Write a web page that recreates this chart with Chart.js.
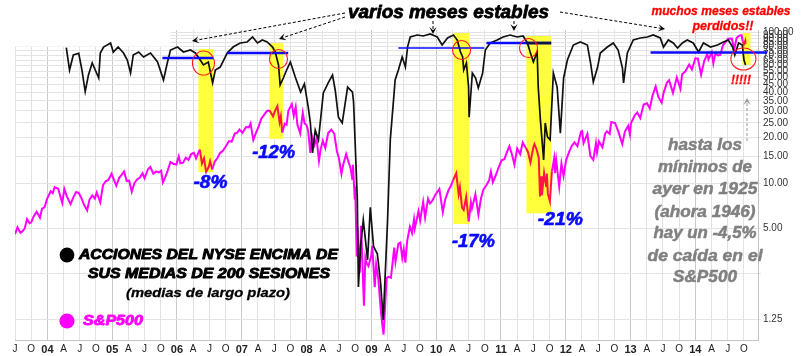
<!DOCTYPE html>
<html><head><meta charset="utf-8">
<script src="https://cdn.jsdelivr.net/npm/chart.js@4"></script>
<style>html,body{margin:0;padding:0;background:#fff;}canvas{display:block}</style>
</head><body>
<canvas id="c" width="807" height="356"></canvas>
<script>
// ---- x axis (month index: 0 = Jan 2003) tick labels, quarterly from Jul 2003 ----
const xTickStart = 6;
const xTickLabels = ['J','O','04','A','J','O','05','A','J','O','06','A','J','O','07','A','J','O','08','A','J','O','09','A','J','O','10','A','J','O','11','A','J','O','12','A','J','O','13','A','J','O','14','A','J','O'];
// ---- right axis (% NYSE stocks above 200-day MA, log) ----
const yTickValues = [1.25,2.5,5,10,15,20,25,30,35,40,45,50,55,60,65,70,75,80,85,90,95,100];
const yTickLabels = ['1.25','','5.00','10.00','15.00','20.00','25.00','30.00','35.00','40.00','45.00','50.00','55.00','60.00','65.00','70.00','75.00','80.00','85.00','90.00','95.00','100.00'];

// ---- % of NYSE stocks above their 200-day average (month index, value) ----
const brMonthIdx = [15.5,16.1,16.8,17.8,18.4,19.0,19.6,20.3,21.5,21.8,
22.4,23.7,24.2,25.1,26.1,26.8,27.4,27.9,28.9,29.8,
31.1,32.4,33.5,34.2,34.8,36.1,37.2,38.5,39.4,40.3,
40.9,41.8,42.6,43.1,44.0,45.3,46.4,47.7,49.0,50.0,
50.9,51.8,52.7,53.7,54.2,54.8,55.1,55.7,56.3,57.0,
57.9,58.9,59.6,60.3,60.7,61.1,61.6,62.2,63.1,64.0,
64.8,65.3,65.9,66.6,67.6,68.5,68.7,69.4,69.6,70.0,
70.5,71.3,71.8,72.4,73.1,73.7,74.2,75.0,75.5,76.1,
76.4,77.0,77.7,78.3,78.7,79.2,80.5,81.6,82.9,84.2,
85.1,86.1,87.2,87.9,88.5,88.9,89.1,89.6,90.0,90.1,
90.7,91.3,91.8,92.6,93.1,94.0,95.3,96.4,97.7,99.0,
100.1,100.9,101.4,102.0,102.7,102.9,103.3,103.9,104.2,104.6,
105.1,105.7,106.4,107.0,107.6,108.3,109.4,110.7,112.0,112.6,
113.1,113.9,114.4,115.7,116.8,117.7,118.5,118.7,119.4,120.5,
121.8,123.1,124.2,125.5,126.1,127.0,127.9,128.7,129.6,130.5,
131.6,132.6,133.5,134.8,136.1,137.2,138.1,138.9,139.3,140.0,
140.7,141.0,141.3];
const brValues = [78.7,56.0,70.4,72.3,56.0,40.3,51.9,62.3,49.6,72.6,
79.5,84.6,73.7,79.5,72.6,65.2,53.5,70.4,73.7,68.3,
72.6,63.3,48.1,62.3,76.0,79.5,73.7,76.0,72.6,65.2,
60.5,63.3,46.0,56.0,58.6,72.6,79.5,84.6,85.9,92.7,
84.6,88.5,85.9,79.5,73.7,60.5,44.6,49.6,56.0,63.3,
50.3,40.0,45.3,31.9,25.0,15.8,22.4,19.3,39.5,46.0,
51.9,41.3,27.3,25.0,43.2,40.0,34.4,7.7,2.05,3.8,
5.7,3.1,6.9,3.8,3.4,2.2,1.24,5.7,19.3,35.4,
48.1,56.0,68.3,58.6,79.5,92.7,95.5,94.1,97.0,92.7,
82.0,91.3,95.5,88.5,73.7,68.3,56.0,62.3,43.2,27.3,
53.5,49.6,42.6,53.5,76.0,84.6,88.5,92.7,95.5,92.7,
94.1,84.6,73.7,63.3,73.7,43.2,26.2,14.2,25.0,20.2,
19.3,53.5,43.2,21.4,49.6,65.2,82.0,85.9,82.0,62.3,
46.7,58.6,72.6,79.5,84.6,76.0,57.7,46.0,72.6,88.5,
91.3,92.7,95.5,91.3,79.5,88.5,84.6,78.3,84.6,88.5,
84.6,73.7,84.6,79.5,82.0,85.9,88.5,79.5,70.4,84.6,
82.0,65.2,60.5];

// ---- S&P 500 ----
const spDates = ['2003-07-01','2003-07-15','2003-08-01','2003-08-12','2003-08-25','2003-09-08','2003-09-22','2003-10-01','2003-10-15','2003-11-01','2003-11-20','2003-12-01','2003-12-15',
'2004-01-01','2004-01-20','2004-02-01','2004-02-11','2004-03-01','2004-03-24','2004-04-05','2004-04-20','2004-05-10','2004-05-25','2004-06-10','2004-06-25','2004-07-10','2004-07-25','2004-08-12','2004-08-25','2004-09-10','2004-09-25','2004-10-05','2004-10-25','2004-11-10','2004-11-25','2004-12-10','2004-12-28',
'2005-01-10','2005-01-24','2005-02-10','2005-02-25','2005-03-07','2005-03-22','2005-04-05','2005-04-20','2005-05-05','2005-05-20','2005-06-05','2005-06-20','2005-07-01','2005-07-20','2005-08-03','2005-08-20','2005-09-05','2005-09-20','2005-10-03','2005-10-13','2005-10-25','2005-11-10','2005-11-25','2005-12-10','2005-12-28',
'2006-01-11','2006-01-20','2006-02-05','2006-02-20','2006-03-05','2006-03-20','2006-04-05','2006-04-17','2006-05-08','2006-05-20','2006-06-01','2006-06-13','2006-06-28','2006-07-05','2006-07-17','2006-08-01','2006-08-15','2006-09-01','2006-09-15','2006-10-01','2006-10-20','2006-11-05','2006-11-22','2006-12-05','2006-12-18',
'2007-01-05','2007-01-25','2007-02-10','2007-02-20','2007-03-05','2007-03-20','2007-04-05','2007-04-20','2007-05-05','2007-05-20','2007-06-05','2007-06-25','2007-07-05','2007-07-19','2007-08-01','2007-08-08','2007-08-16','2007-08-30','2007-09-10','2007-09-20','2007-10-09','2007-10-20','2007-10-31','2007-11-10','2007-11-26','2007-12-10','2007-12-20',
'2008-01-02','2008-01-10','2008-01-22','2008-02-01','2008-02-15','2008-02-27','2008-03-10','2008-03-20','2008-04-01','2008-04-15','2008-05-01','2008-05-19','2008-06-05','2008-06-20','2008-07-01','2008-07-15','2008-07-25','2008-08-11','2008-08-25','2008-09-05','2008-09-15','2008-09-19','2008-09-29','2008-10-01','2008-10-10','2008-10-13','2008-10-27','2008-11-04','2008-11-20','2008-11-28','2008-12-05','2008-12-15','2008-12-31',
'2009-01-06','2009-01-20','2009-01-28','2009-02-10','2009-02-23','2009-03-02','2009-03-09','2009-03-26','2009-04-06','2009-04-20','2009-05-08','2009-05-15','2009-06-01','2009-06-12','2009-06-23','2009-07-01','2009-07-10','2009-07-20','2009-08-05','2009-08-17','2009-08-28','2009-09-02','2009-09-23','2009-10-02','2009-10-19','2009-10-30','2009-11-16','2009-11-27','2009-12-10','2009-12-28',
'2010-01-19','2010-02-08','2010-02-22','2010-03-10','2010-03-25','2010-04-05','2010-04-23','2010-05-06','2010-05-13','2010-05-25','2010-06-04','2010-06-18','2010-07-02','2010-07-14','2010-07-20','2010-08-09','2010-08-26','2010-09-10','2010-09-24','2010-10-10','2010-10-25','2010-11-05','2010-11-16','2010-12-01','2010-12-20',
'2011-01-05','2011-01-20','2011-02-01','2011-02-18','2011-03-01','2011-03-16','2011-04-01','2011-04-18','2011-05-02','2011-05-20','2011-06-01','2011-06-15','2011-07-01','2011-07-07','2011-07-20','2011-08-01','2011-08-08','2011-08-14','2011-08-19','2011-08-31','2011-09-12','2011-09-16','2011-09-22','2011-10-03','2011-10-14','2011-10-27','2011-11-01','2011-11-08','2011-11-25','2011-12-07','2011-12-19',
'2012-01-03','2012-01-20','2012-02-05','2012-02-20','2012-03-06','2012-03-26','2012-04-02','2012-04-10','2012-05-01','2012-05-18','2012-06-04','2012-06-19','2012-06-25','2012-07-05','2012-07-25','2012-08-10','2012-08-20','2012-09-05','2012-09-14','2012-10-05','2012-10-25','2012-11-15','2012-11-30','2012-12-18','2012-12-28',
'2013-01-03','2013-01-25','2013-02-08','2013-02-25','2013-03-14','2013-04-02','2013-04-18','2013-05-03','2013-05-21','2013-06-05','2013-06-24','2013-07-05','2013-07-23','2013-08-05','2013-08-27','2013-09-18','2013-10-08','2013-10-18','2013-11-05','2013-11-27','2013-12-12','2013-12-31',
'2014-01-15','2014-02-03','2014-02-20','2014-03-07','2014-03-14','2014-04-02','2014-04-11','2014-04-22','2014-05-07','2014-05-20','2014-06-05','2014-06-20','2014-07-03','2014-07-24','2014-08-07','2014-08-21','2014-09-05','2014-09-18','2014-09-25','2014-10-01','2014-10-08','2014-10-09'];
const spValues = [975,1000,980,985,995,1030,1015,1018,1040,1058,1035,1070,1075,
1112,1140,1132,1157,1150,1092,1150,1118,1088,1114,1136,1134,1112,1085,1063,1105,1123,1110,1135,1095,1165,1182,1188,1215,
1190,1163,1197,1211,1225,1183,1185,1138,1175,1190,1198,1217,1195,1235,1245,1215,1225,1221,1228,1177,1198,1230,1268,1260,1256,
1294,1262,1265,1288,1278,1305,1311,1285,1326,1261,1285,1223,1246,1272,1234,1270,1285,1311,1319,1340,1368,1365,1406,1410,1427,
1410,1440,1438,1459,1374,1410,1443,1485,1505,1525,1530,1497,1525,1553,1465,1497,1411,1457,1451,1528,1565,1500,1549,1453,1407,1515,1460,
1447,1420,1310,1395,1349,1381,1273,1330,1370,1334,1409,1426,1405,1317,1284,1214,1257,1305,1266,1242,1192,1255,1106,1161,899,1003,848,1005,752,896,876,868,903,
935,805,874,827,743,700,677,832,835,832,929,882,942,946,895,923,879,951,1002,979,1028,995,1060,1025,1097,1036,1109,1091,1102,1127,
1150,1056,1108,1145,1165,1187,1217,1128,1157,1074,1065,1117,1022,1095,1071,1128,1047,1110,1148,1165,1185,1225,1178,1206,1247,
1276,1281,1307,1343,1306,1256,1332,1305,1361,1333,1315,1266,1339,1353,1325,1287,1119,1204,1124,1218,1162,1216,1129,1099,1224,1285,1218,1276,1159,1261,1205,
1277,1315,1345,1362,1343,1416,1419,1358,1405,1295,1278,1357,1313,1367,1338,1405,1418,1404,1466,1461,1412,1353,1416,1446,1402,
1459,1503,1518,1488,1563,1570,1541,1614,1669,1608,1573,1632,1692,1707,1630,1725,1655,1745,1762,1807,1775,1848,
1848,1741,1828,1878,1841,1890,1815,1879,1868,1872,1940,1962,1985,1987,1910,1992,2007,2011,1965,1946,1968,1946];

// ---- annotations (data units: month index, % value on right axis) ----
const boxStart = [39.96, 53.1, 87.2, 100.7, 140.7];
const boxEnd   = [42.74, 55.7, 90.1, 105.3, 142.2];
const boxTop   = [77.2, 84.5, 98.5, 94.1, 98.5];
const boxBot   = [11.8, 19.6, 5.35, 6.3, 60.5];
const blueFrom = [33.3, 45.3, 77.0, 93.3, 123.7];
const blueTo   = [42.74, 56.6, 92.9, 105.3, 145.3];
const blueLvl  = [67.3, 72.6, 78.3, 84.5, 73.2];
const circM    = [40.9, 54.8, 88.7, 101.1, 140.9];
const circV    = [62.3, 66.3, 76.0, 78.3, 66.3];
const dropLabels = ['-8%','-12%','-17%','-21%'];
const dropM      = [42.2, 53.9, 90.9, 107.0];
const dropSP     = [1174, 1310, 947, 1027];

const toM = s => { const p = s.split('-').map(Number); return (p[0]-2003)*12 + (p[1]-1) + (p[2]-1)/30.5; };
const inBox = m => boxStart.some((s,i)=> m>=s && m<=boxEnd[i]);

function txt(c, s, cx, cy, w, font, color, heavy){
  c.save(); c.font = font; c.fillStyle = color; c.textAlign='center'; c.textBaseline='middle';
  const k = w ? w / c.measureText(s).width : 1;
  c.translate(cx, cy); c.scale(k, 1); c.fillText(s, 0, 0);
  if (heavy){ c.strokeStyle = color; c.lineWidth = heavy; c.lineJoin='round'; c.strokeText(s, 0, 0); }
  c.restore();
}
function arrow(c, x1, y1, x2, y2, color){
  c.save(); c.strokeStyle=color; c.fillStyle=color; c.lineWidth=1; c.setLineDash([3,2]);
  const a = Math.atan2(y2-y1, x2-x1), L=7, H=3.6;
  c.beginPath(); c.moveTo(x1,y1); c.lineTo(x2 - Math.cos(a)*4, y2 - Math.sin(a)*4); c.stroke();
  c.setLineDash([]);
  const bx = x2 - Math.cos(a)*L, by = y2 - Math.sin(a)*L;
  const nx = x2 - Math.cos(a)*L*0.55, ny = y2 - Math.sin(a)*L*0.55;
  c.beginPath(); c.moveTo(x2,y2);
  c.lineTo(bx + Math.sin(a)*H, by - Math.cos(a)*H);
  c.lineTo(nx, ny);
  c.lineTo(bx - Math.sin(a)*H, by + Math.cos(a)*H);
  c.closePath(); c.fill();
  c.restore();
}

const annot = {
  id: 'annot',
  beforeDatasetsDraw(chart){
    const c = chart.ctx, xs = chart.scales.x, ys = chart.scales.y;
    const X = v => xs.getPixelForValue(v), Y = v => ys.getPixelForValue(v);
    c.save();
    c.fillStyle = '#ffffff';
    c.fillRect(X(6), Y(103.1)-1, X(34.8)-X(6), Y(80)-Y(103.1)+1);
    c.fillStyle = '#ffff3c';
    boxStart.forEach((s,i)=>{ c.fillRect(X(s), Y(boxTop[i]), X(boxEnd[i])-X(s), Y(boxBot[i])-Y(boxTop[i])); });
    c.restore();
  },
  afterDatasetsDraw(chart){
    const c = chart.ctx, xs = chart.scales.x, ys = chart.scales.y, y2 = chart.scales.y2;
    const X = v => xs.getPixelForValue(v), Y = v => ys.getPixelForValue(v);
    c.save();
    // blue horizontal lines
    const bw = [2.4, 2.4, 1.4, 2.6, 2.6];
    blueFrom.forEach((f,i)=>{
      c.strokeStyle = '#0a0aff'; c.lineWidth = bw[i];
      c.beginPath(); c.moveTo(X(f), Y(blueLvl[i])); c.lineTo(X(blueTo[i]), Y(blueLvl[i])); c.stroke();
    });
    c.strokeStyle = '#10104a'; c.lineWidth = 2.6;
    c.beginPath(); c.moveTo(X(boxStart[3]), Y(blueLvl[3])); c.lineTo(X(blueTo[3]), Y(blueLvl[3])); c.stroke();
    // red circles
    const rx = [11, 9, 9, 9, 12.5], ry = [12, 9.5, 9.5, 9.5, 11];
    c.strokeStyle = '#ff1a1a'; c.lineWidth = 1.1;
    circM.forEach((m,i)=>{ c.beginPath(); c.ellipse(X(m), Y(circV[i]), rx[i], ry[i], 0, 0, Math.PI*2); c.stroke(); });
    // drop labels
    dropLabels.forEach((s,i)=>{
      const w = [34, 43, 43, 45][i];
      txt(c, s, X(dropM[i]), y2.getPixelForValue(dropSP[i]), w, 'italic bold 18px "Liberation Sans"', '#0a0aff', 0.6);
    });
    c.restore();

    // top annotations
    txt(c, 'varios meses estables', 448.5, 12.5, 201, 'italic bold 19px "Liberation Sans"', '#000', 0.8);
    arrow(c, 345, 13, 192, 41, '#000');
    arrow(c, 345, 17, 279, 39, '#000');
    arrow(c, 433, 21, 433, 34, '#000');
    arrow(c, 514, 21, 514, 31, '#000');
    arrow(c, 560, 12, 665, 29, '#000');
    txt(c, 'muchos meses estables', 721, 12, 139, 'italic bold 12px "Liberation Sans"', '#ff0000', 0.3);
    txt(c, 'perdidos!!', 723, 26, 61, 'italic bold 13px "Liberation Sans"', '#ff0000', 0.3);
    txt(c, '!!!!!', 741, 80, 20, 'italic bold 13px "Liberation Sans"', '#ff0000', 0.3);
    arrow(c, 747, 141, 747, 98, '#999');
    // gray note
    const note = ['hasta los','mínimos de','ayer en 1925','(ahora 1946)','hay un -4,5%','de caída en el','S&P500'];
    const ny = [145, 167, 189, 212, 233, 256, 277];
    const nw = [74, 94, 105, 101, 103, 115, 64];
    note.forEach((s,i)=> txt(c, s, 705, ny[i], nw[i], 'italic bold 17px "Liberation Sans"', '#808080', 0.5));
    // legend
    c.save();
    c.fillStyle = '#000'; c.beginPath(); c.arc(67, 255, 7.4, 0, Math.PI*2); c.fill();
    c.fillStyle = '#ff00ff'; c.beginPath(); c.arc(67, 321, 7.6, 0, Math.PI*2); c.fill();
    c.restore();
    txt(c, 'ACCIONES DEL NYSE ENCIMA DE', 208.5, 255, 259, 'italic bold 14px "Liberation Sans"', '#000', 0.9);
    txt(c, 'SUS MEDIAS DE 200 SESIONES', 209, 274, 242, 'italic bold 14px "Liberation Sans"', '#000', 0.9);
    txt(c, '(medias de largo plazo)', 208, 293, 164, 'italic bold 13px "Liberation Sans"', '#000', 0.3);
    txt(c, 'S&P500', 113, 321, 60, 'italic bold 14px "Liberation Sans"', '#ff00ff', 0.8);
  }
};

Chart.defaults.font.family = '"Liberation Sans", Arial, sans-serif';
new Chart(document.getElementById('c'), {
  type: 'line',
  data: { datasets: [
    { label: 'NYSE > MA200', data: brMonthIdx.map((m,i)=>({x:m, y:brValues[i]})), yAxisID: 'y',
      borderColor: '#111', borderWidth: 1.7, pointRadius: 0, tension: 0, order: 0 },
    { label: 'S&P500', data: spDates.map((d,i)=>({x:toM(d), y:spValues[i]})), yAxisID: 'y2',
      borderColor: '#ff00ff', borderWidth: 2, pointRadius: 0, tension: 0, order: 1,
      segment: { borderColor: s => inBox((s.p0.parsed.x + s.p1.parsed.x)/2) ? '#ff1744' : undefined } }
  ]},
  options: {
    responsive: false, animation: false, devicePixelRatio: 1,
    layout: { padding: { left: 15, top: 30, right: 0, bottom: 0 } },
    plugins: { legend: { display: false }, tooltip: { enabled: false } },
    scales: {
      x: { type: 'linear', min: 6, max: 143.6,
        afterBuildTicks: s => { s.ticks = xTickLabels.map((l,i)=>({ value: xTickStart + 3*i })); },
        afterFit: s => { s.height = 16; },
        ticks: { autoSkip: false, maxRotation: 0, padding: 3, color: '#222',
          callback: (v,i) => xTickLabels[i],
          font: c => (c.tick && Math.round(c.tick.value) % 12 === 0) ? { size: 11, weight: 'bold' } : { size: 10 } },
        grid: { drawTicks: false, color: c => (c.tick && Math.round(c.tick.value) % 12 === 0) ? '#c9c9c9' : '#e2e2e2' },
        border: { color: '#c4c4c4' } },
      y: { type: 'logarithmic', position: 'right', min: 0.9127, max: 103.1,
        afterBuildTicks: s => { s.ticks = yTickValues.map(v => ({ value: v })); },
        afterFit: s => { s.width = 49; },
        ticks: { autoSkip: false, padding: 2, color: '#333', font: { size: 10 },
          callback: (v,i) => yTickLabels[i] },
        grid: { color: '#e4e4e4', tickLength: 3 },
        border: { color: '#c4c4c4' } },
      y2: { type: 'logarithmic', display: false, min: 663.7, max: 2049 }
    }
  },
  plugins: [annot]
});
</script>
</body></html>
